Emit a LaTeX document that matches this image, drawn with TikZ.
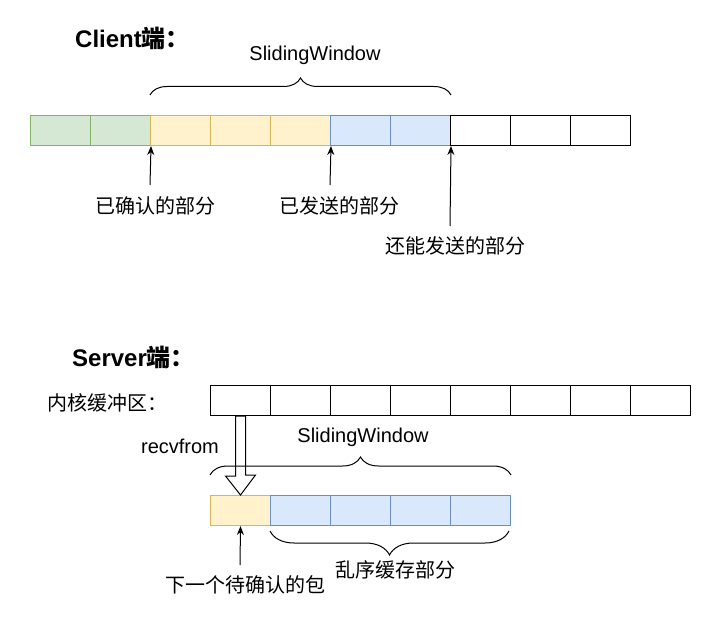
\documentclass[tikz,border=0pt]{standalone}
\usepackage{fontspec}
\setmainfont{Liberation Sans}
\newfontfamily\cjk{Noto Sans CJK SC}
\usetikzlibrary{positioning,calc,decorations.pathreplacing,arrows.meta}

\definecolor{ackFill}{HTML}{D5E8D4}
\definecolor{ackLine}{HTML}{82B366}
\definecolor{sentFill}{HTML}{FFF2CC}
\definecolor{sentLine}{HTML}{D6B656}
\definecolor{freeFill}{HTML}{DAE8FC}
\definecolor{freeLine}{HTML}{6C8EBF}

\tikzset{
  cell/.style={draw, line width=1pt, minimum width=60pt, minimum height=30pt,
    inner sep=0pt, anchor=north west},
  ackcell/.style={cell, fill=ackFill, draw=ackLine},
  sentcell/.style={cell, fill=sentFill, draw=sentLine},
  freecell/.style={cell, fill=freeFill, draw=freeLine},
  emptycell/.style={cell, fill=white, draw=black},
  lbl/.style={inner sep=0pt, font=\fontsize{20}{24}\selectfont},
  cnlbl/.style={inner sep=0pt, font=\fontsize{20}{24}\selectfont\cjk},
  title/.style={inner sep=0pt, anchor=west, font=\fontsize{24}{28}\selectfont\bfseries},
  tip/.style={line width=1pt, -{Stealth[length=9pt,width=7pt]}},
  brace/.style={line width=1pt, decorate, decoration={brace, amplitude=#1}},
  hollow/.style={line width=1pt, fill=white, line join=miter}
}

\begin{document}
\begin{tikzpicture}[x=1pt, y=-1pt]
  \useasboundingbox (0,0) rectangle (711,617);

  %% Client side
  \node[title] (client) at (75,38) {Client{\cjk 端：}};
  \foreach \i/\kind in {1/ackcell,2/ackcell,3/sentcell,4/sentcell,5/sentcell,
                        6/freecell,7/freecell,8/emptycell,9/emptycell,10/emptycell}
    \node[\kind] (c\i) at ({30+60*(\i-1)},115) {};

  \draw[brace=17pt] ($(c3.north west)+(0,-20)$) -- ($(c7.north east)+(0,-20)$);
  \node[lbl] (cwin) at (315,55) {SlidingWindow};

  \node[cnlbl] (ack) at (155,206) {已确认的部分};
  \node[cnlbl] (sent) at (339,206) {已发送的部分};
  \node[cnlbl] (canSend) at (455,246) {还能发送的部分};
  \coordinate (ackTail) at (150,185);
  \coordinate (sentTail) at (330,185);
  \coordinate (canSendTail) at (450,226);
  \draw[tip] (ackTail) -- (c2.south east);
  \draw[tip] (sentTail) -- (c5.south east);
  \draw[tip] (canSendTail) -- (c7.south east);

  %% Server side
  \node[title] (server) at (72,357) {Server{\cjk 端：}};
  \node[cnlbl, anchor=west] (kernel) at (47,403) {内核缓冲区：};
  \foreach \i in {1,...,8}
    \node[emptycell] (k\i) at ({210+60*(\i-1)},385) {};

  \node[sentcell] (w1) at (210,495) {};
  \foreach \i in {2,...,5}
    \node[freecell] (w\i) at ({210+60*(\i-1)},495) {};

  %% recvfrom hollow arrow
  \draw[hollow] ($(k1.south)+(-5,0)$) -- ++(0,60) -- ++(-10,0) -- (w1.north)
    -- ++(15,-20) -- ++(-10,0) -- ($(k1.south)+(5,0)$) -- cycle;
  \node[lbl] (recv) at (180,446) {recvfrom};

  \draw[brace=18pt] ($(w1.north west)+(0,-20)$) -- ($(w5.north east)+(0,-20)$);
  \node[lbl] (swin) at (363,437) {SlidingWindow};

  \draw[brace=24pt] ($(w5.south east)+(-2,5)$) -- ($(w2.south west)+(0,5)$);
  \node[cnlbl] (ooo) at (395,570) {乱序缓存部分};

  \node[cnlbl] (next) at (245,585) {下一个待确认的包};
  \coordinate (nextTail) at (240,565);
  \draw[tip] (nextTail) -- (w1.south);
\end{tikzpicture}
\end{document}
